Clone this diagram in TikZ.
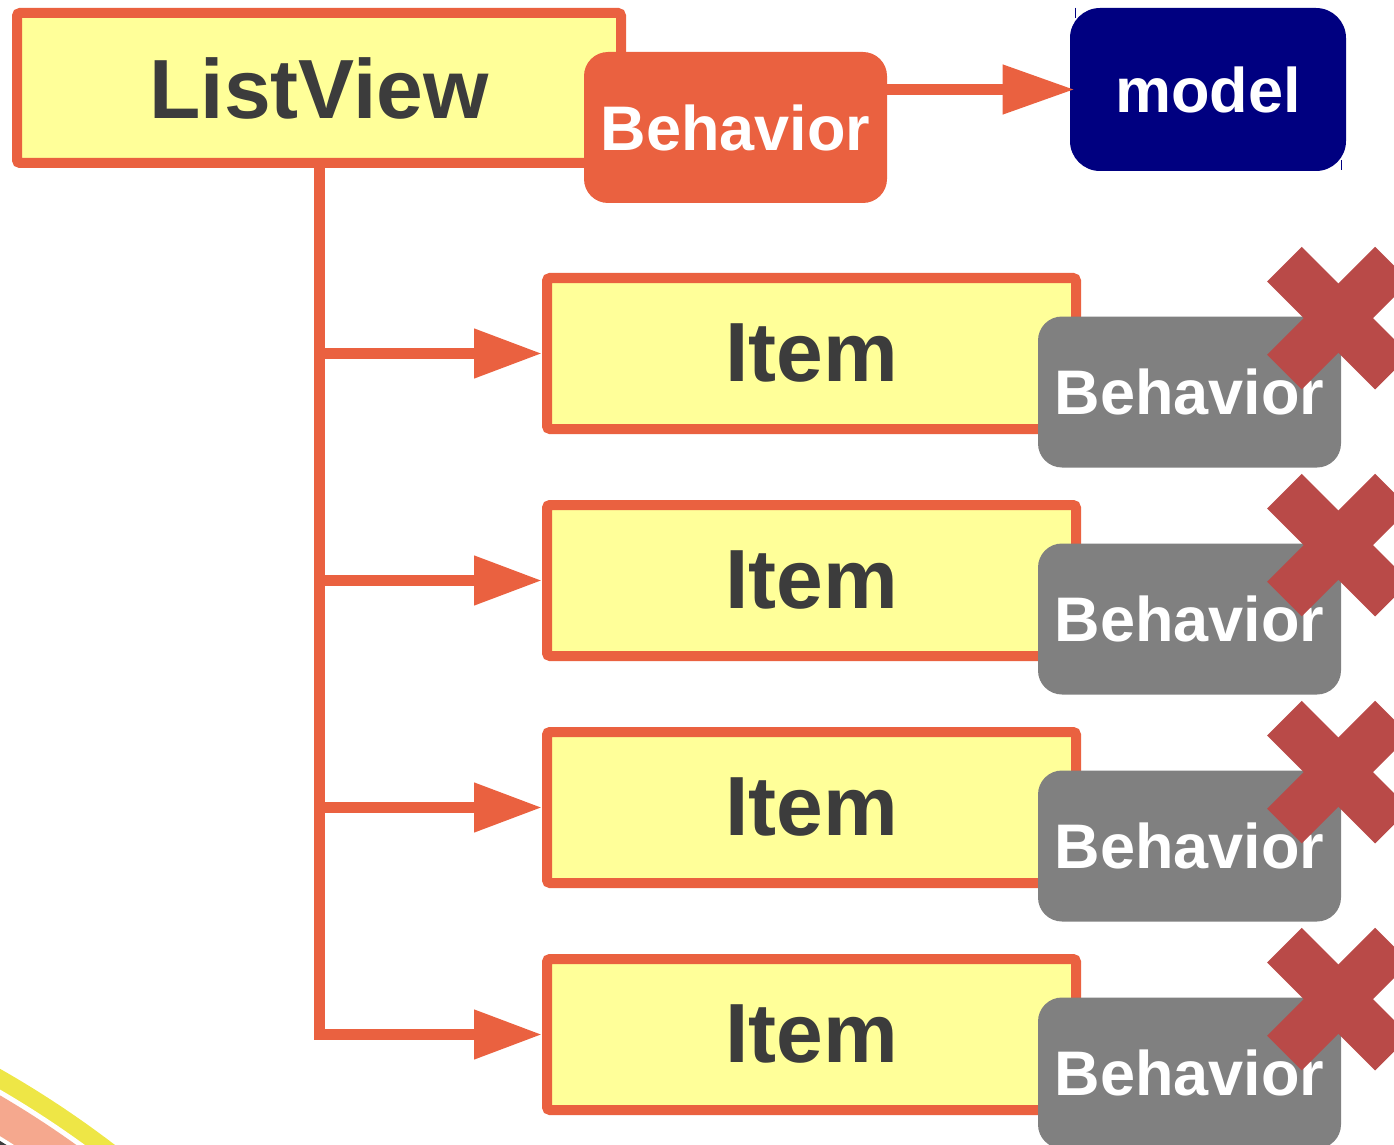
\documentclass[tikz,border=0pt]{standalone}
\usepackage{fontspec}
\setmainfont{Liberation Sans}
\usetikzlibrary{arrows.meta,calc}

\definecolor{accent}{RGB}{234,97,64}
\definecolor{paleyellow}{RGB}{255,255,153}
\definecolor{inktext}{RGB}{60,60,60}
\definecolor{navybox}{RGB}{0,0,128}
\definecolor{greybox}{RGB}{128,128,128}
\definecolor{crossred}{RGB}{185,74,72}
\definecolor{swooshyellow}{RGB}{238,230,70}
\definecolor{swooshsalmon}{RGB}{245,168,142}
\definecolor{swooshdark}{RGB}{60,60,60}

\tikzset{
  bigtext/.style={font=\fontsize{42pt}{48pt}\selectfont\bfseries, text=inktext},
  smalltext/.style={font=\fontsize{31.5pt}{36pt}\selectfont\bfseries, text=white},
  framebox/.style={draw=accent, fill=paleyellow, line width=5pt, rounded corners=1.5pt,
    inner sep=0pt, bigtext},
  listbox/.style={framebox, minimum width=302pt, minimum height=75pt},
  itembox/.style={framebox, minimum width=264.5pt, minimum height=75.5pt},
  behbox/.style={fill=#1, rounded corners=12pt, inner sep=0pt,
    minimum width=151.5pt, minimum height=75.5pt, smalltext},
  modelbox/.style={fill=navybox, rounded corners=15pt, inner sep=0pt,
    minimum width=138pt, minimum height=81.5pt, smalltext},
  link/.style={draw=accent, line width=5.5pt,
    -{Triangle[length=34pt, width=23.5pt]}},
  toplink/.style={draw=accent, line width=5.5pt,
    -{Triangle[length=36pt, width=23.5pt]}},
  cross/.style={draw=crossred, line width=24.5pt},
}

\begin{document}
\begin{tikzpicture}[x=0.5pt, y=-0.5pt]
  \useasboundingbox (0,0) rectangle (1394,1145);
  \clip (0,0) rectangle (1394,1145);

  % swoosh rings in the lower left corner
  \fill[swooshyellow] (-500,1950) circle [radius=1013];
  \fill[white]        (-500,1950) circle [radius=995];
  \fill[swooshsalmon] (-500,1950) circle [radius=990];
  \fill[white]        (-500,1950) circle [radius=955];
  \fill[swooshdark]   (-500,1950) circle [radius=951];

  % list view with its behavior and the model
  \node[listbox] (lv) at (319,88) {ListView};
  \node[behbox=accent] (beh) at (735.5,127.5) {Behavior};
  \node[modelbox] (model) at (1208,89.5) {model};
  \draw[toplink] (beh.east |- model.west) -- ($(model.west)+(5,0)$);
  \draw[navybox, line width=0.6pt] ($(model.north west)+(6,0)$) -- +(0,10);
  \draw[navybox, line width=0.6pt] ($(model.south east)+(-5,-11)$) -- +(0,10);

  % delegate items, each with a disabled behavior
  \foreach \k in {1,2,3,4} {
    \node[itembox] (it\k) at (811.5,{353.5+227*(\k-1)}) {Item};
    \node[behbox=greybox] (gb\k) at (1189.5,{392+227*(\k-1)}) {Behavior};
    \coordinate (xc\k) at ($(gb\k.north east)+(-3,2)$);
    \draw[cross] ($(xc\k)+(-54,-54)$) -- ($(xc\k)+(54,54)$);
    \draw[cross] ($(xc\k)+(-54,54)$) -- ($(xc\k)+(54,-54)$);
  }

  % tree connectors from the list view to the items
  \draw[link] (lv.south) |- (it4.west);
  \foreach \k in {1,2,3} {
    \draw[link] (lv.south |- it\k.west) -- (it\k.west);
  }
\end{tikzpicture}
\end{document}
